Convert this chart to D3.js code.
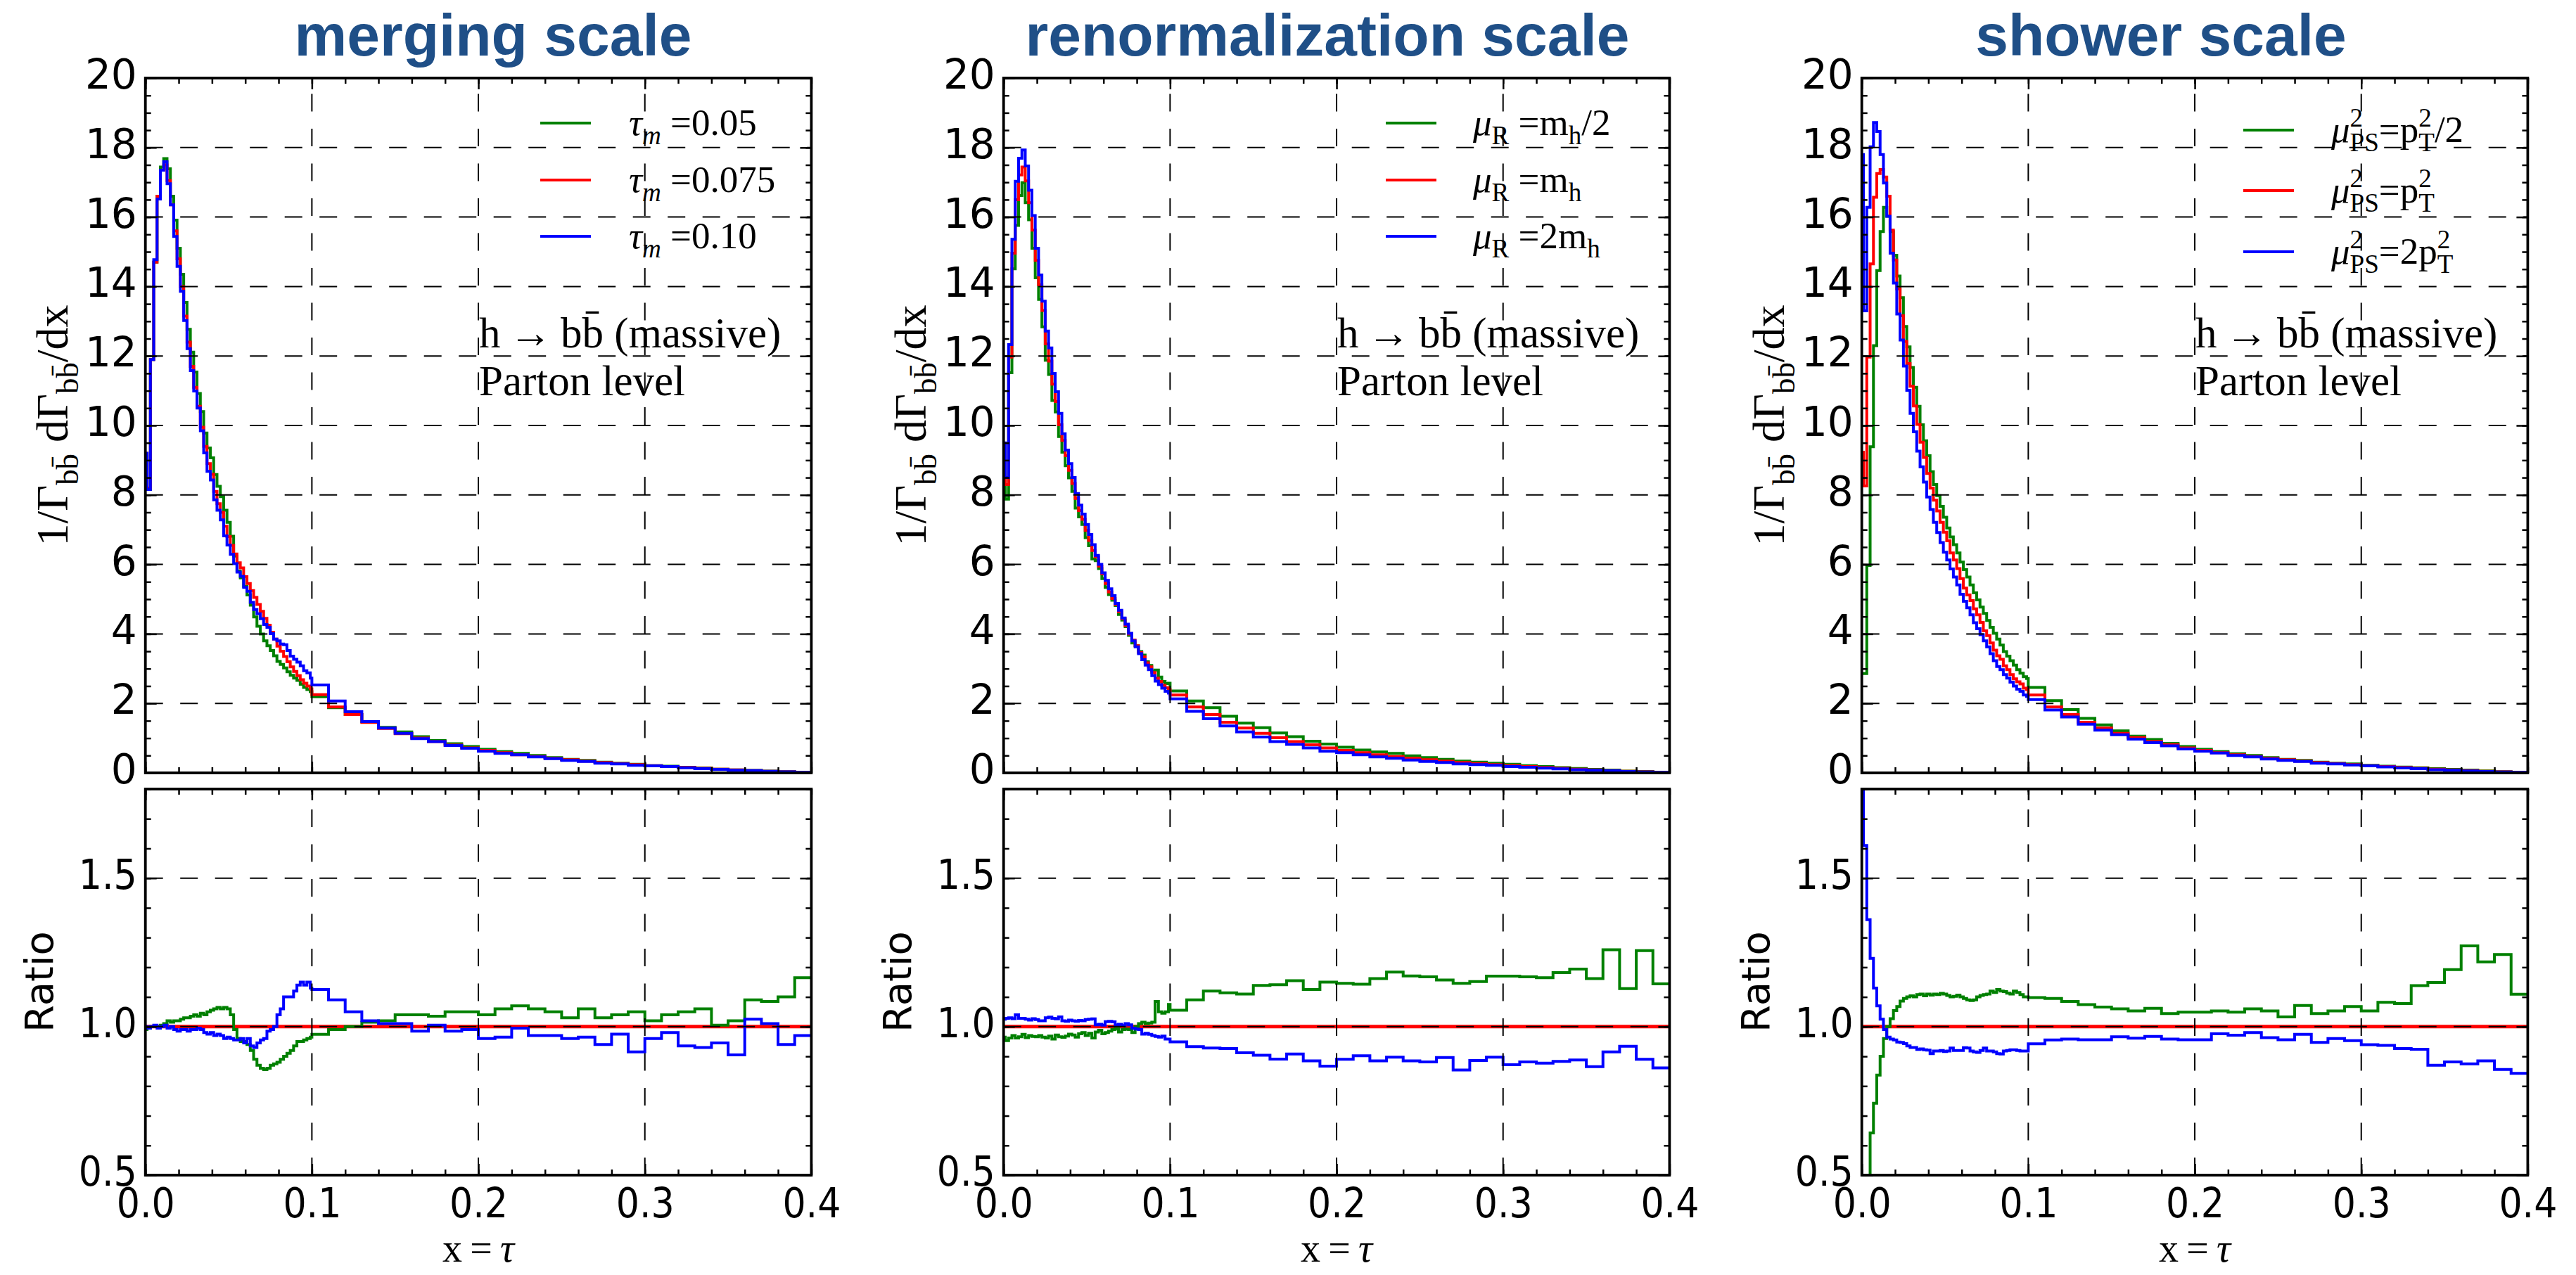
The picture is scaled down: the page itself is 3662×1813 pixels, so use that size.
<!DOCTYPE html>
<html>
<head>
<meta charset="utf-8">
<script src="https://cdnjs.cloudflare.com/ajax/libs/d3/7.8.5/d3.min.js"></script>
<style>
  body { margin: 0; background: #fff; }
</style>
</head>
<body>
<svg id="chart"></svg>
<script>
'use strict'

// bin edges: fine bins of 0.002 (offset by 0.001) below 0.1, then 0.01
var binEdges = [0, 0.001, 0.003, 0.005, 0.007, 0.009, 0.011, 0.013, 0.015, 0.017, 0.019,
  0.021, 0.023, 0.025, 0.027, 0.029, 0.031, 0.033, 0.035, 0.037, 0.039,
  0.041, 0.043, 0.045, 0.047, 0.049, 0.051, 0.053, 0.055, 0.057, 0.059,
  0.061, 0.063, 0.065, 0.067, 0.069, 0.071, 0.073, 0.075, 0.077, 0.079,
  0.081, 0.083, 0.085, 0.087, 0.089, 0.091, 0.093, 0.095, 0.097, 0.099, 0.1,
  0.11, 0.12, 0.13, 0.14, 0.15, 0.16, 0.17, 0.18, 0.19, 0.2, 0.21, 0.22, 0.23, 0.24,
  0.25, 0.26, 0.27, 0.28, 0.29, 0.3, 0.31, 0.32, 0.33, 0.34, 0.35, 0.36, 0.37, 0.38, 0.39, 0.4];

// merging scale
var mergeRed = [9.2, 8.2, 11.9, 14.7, 16.6, 17.35, 17.5, 17.05, 16.35, 15.6, 14.8, 14.0, 13.15, 12.4, 11.7, 11.1, 10.55, 9.95, 9.4, 8.9, 8.6, 8.1, 7.75, 7.5, 7.1, 6.8, 6.55, 6.3, 6.05, 5.9, 5.65, 5.45, 5.25, 5.05, 4.85, 4.65, 4.45, 4.25, 4.05, 3.85, 3.65, 3.5, 3.35, 3.2, 3.05, 2.92, 2.8, 2.68, 2.58, 2.5, 2.42,
  2.25, 1.9, 1.68, 1.45, 1.28, 1.13, 1.0, 0.9, 0.8, 0.72, 0.65, 0.58, 0.52, 0.47, 0.42, 0.38, 0.34, 0.3, 0.27, 0.24, 0.21, 0.18, 0.155, 0.13, 0.105, 0.085, 0.065, 0.045, 0.03, 0.015];
var mergeGreen = [9.11, 8.16, 11.9, 14.7, 16.6, 17.44, 17.68, 17.39, 16.6, 15.91, 15.1, 14.35, 13.54, 12.77, 12.11, 11.54, 10.92, 10.4, 9.78, 9.35, 9.07, 8.59, 8.25, 7.95, 7.56, 7.21, 6.81, 6.24, 5.81, 5.61, 5.37, 5.12, 4.83, 4.49, 4.22, 4.0, 3.8, 3.66, 3.52, 3.37, 3.21, 3.12, 3.02, 2.91, 2.81, 2.73, 2.66, 2.55, 2.46, 2.4, 2.34,
  2.19, 1.88, 1.68, 1.47, 1.31, 1.18, 1.04, 0.93, 0.84, 0.76, 0.68, 0.61, 0.56, 0.5, 0.44, 0.39, 0.36, 0.31, 0.28, 0.25, 0.21, 0.19, 0.16, 0.14, 0.105, 0.087, 0.071, 0.049, 0.033, 0.017];
var mergeBlue = [9.2, 8.16, 11.9, 14.77, 16.52, 17.35, 17.59, 16.96, 16.35, 15.44, 14.58, 13.86, 13.02, 12.21, 11.58, 10.99, 10.5, 9.85, 9.21, 8.68, 8.43, 7.86, 7.56, 7.28, 6.82, 6.56, 6.29, 6.02, 5.78, 5.66, 5.34, 5.23, 4.91, 4.7, 4.58, 4.44, 4.27, 4.19, 4.01, 3.85, 3.8, 3.71, 3.69, 3.52, 3.36, 3.27, 3.19, 3.08, 2.94, 2.88, 2.73,
  2.53, 2.07, 1.76, 1.48, 1.29, 1.14, 0.985, 0.9, 0.79, 0.71, 0.62, 0.56, 0.52, 0.46, 0.41, 0.36, 0.33, 0.28, 0.26, 0.22, 0.2, 0.18, 0.145, 0.12, 0.1, 0.077, 0.067, 0.045, 0.028, 0.015];
var mergeRatioGreen = [0.99, 0.995, 1.0, 1.0, 1.0, 1.005, 1.01, 1.02, 1.015, 1.02, 1.02, 1.025, 1.03, 1.03, 1.035, 1.04, 1.035, 1.045, 1.04, 1.05, 1.055, 1.06, 1.065, 1.06, 1.065, 1.06, 1.04, 0.99, 0.96, 0.95, 0.95, 0.94, 0.92, 0.89, 0.87, 0.86, 0.855, 0.86, 0.87, 0.875, 0.88, 0.89, 0.9, 0.91, 0.92, 0.935, 0.95, 0.95, 0.955, 0.96, 0.965,
  0.974, 0.99, 1.0, 1.015, 1.02, 1.04, 1.04, 1.035, 1.05, 1.05, 1.04, 1.06, 1.07, 1.06, 1.05, 1.03, 1.06, 1.03, 1.04, 1.05, 1.02, 1.04, 1.05, 1.06, 1.005, 1.02, 1.09, 1.085, 1.1, 1.165];
var mergeRatioBlue = [1.0, 0.995, 1.0, 1.005, 0.995, 1.0, 1.005, 0.995, 1.0, 0.99, 0.985, 0.99, 0.99, 0.985, 0.99, 0.99, 0.995, 0.99, 0.98, 0.975, 0.98, 0.97, 0.975, 0.97, 0.96, 0.965, 0.96, 0.955, 0.955, 0.96, 0.945, 0.96, 0.935, 0.93, 0.945, 0.955, 0.96, 0.985, 0.99, 1.0, 1.04, 1.06, 1.1, 1.1, 1.1, 1.12, 1.14, 1.15, 1.14, 1.15, 1.13,
  1.125, 1.09, 1.05, 1.02, 1.01, 1.01, 0.985, 1.005, 0.985, 0.99, 0.96, 0.965, 0.995, 0.97, 0.97, 0.96, 0.965, 0.94, 0.975, 0.915, 0.96, 0.98, 0.935, 0.93, 0.945, 0.905, 1.025, 1.01, 0.94, 0.97];

// renormalization scale
var renormRed = [8.9, 8.3, 11.97, 14.96, 16.5, 17.21, 17.44, 17.04, 16.41, 15.62, 14.75, 14.05, 13.31, 12.35, 11.85, 11.19, 10.69, 10.02, 9.57, 9.13, 8.71, 8.33, 7.9, 7.55, 7.3, 6.98, 6.69, 6.4, 6.22, 5.95, 5.73, 5.45, 5.21, 5.02, 4.85, 4.64, 4.44, 4.24, 4.0, 3.82, 3.66, 3.46, 3.34, 3.17, 3.05, 2.89, 2.73, 2.63, 2.52, 2.45, 2.4,
  2.24, 1.9, 1.68, 1.46, 1.29, 1.14, 1.01, 0.9, 0.81, 0.72, 0.65, 0.58, 0.52, 0.47, 0.42, 0.38, 0.34, 0.3, 0.27, 0.24, 0.21, 0.18, 0.155, 0.13, 0.105, 0.085, 0.065, 0.045, 0.03, 0.015];
var renormGreen = [8.6, 7.88, 11.52, 14.51, 15.76, 16.62, 16.99, 16.41, 15.92, 15.1, 14.25, 13.63, 12.84, 11.88, 11.47, 10.72, 10.39, 9.68, 9.23, 8.84, 8.49, 8.1, 7.62, 7.37, 7.15, 6.77, 6.54, 6.16, 6.11, 5.88, 5.59, 5.34, 5.13, 4.97, 4.82, 4.56, 4.4, 4.21, 3.96, 3.74, 3.66, 3.49, 3.39, 3.2, 3.09, 2.93, 2.96, 2.76, 2.63, 2.57, 2.58,
  2.36, 2.07, 1.88, 1.63, 1.43, 1.3, 1.15, 1.04, 0.91, 0.83, 0.74, 0.66, 0.6, 0.56, 0.49, 0.44, 0.39, 0.34, 0.31, 0.28, 0.25, 0.21, 0.18, 0.15, 0.125, 0.099, 0.082, 0.051, 0.038, 0.017];
var renormBlue = [9.5, 8.5, 12.33, 15.36, 17.03, 17.69, 17.93, 17.47, 16.77, 16.04, 15.1, 14.33, 13.58, 12.72, 12.23, 11.5, 10.97, 10.35, 9.76, 9.29, 8.9, 8.5, 8.04, 7.71, 7.45, 7.15, 6.86, 6.57, 6.26, 6.0, 5.76, 5.54, 5.3, 5.1, 4.88, 4.68, 4.46, 4.28, 4.02, 3.8, 3.63, 3.43, 3.26, 3.1, 2.97, 2.8, 2.64, 2.54, 2.44, 2.35, 2.3,
  2.13, 1.77, 1.56, 1.35, 1.18, 1.03, 0.9, 0.82, 0.72, 0.62, 0.58, 0.52, 0.46, 0.42, 0.37, 0.33, 0.3, 0.26, 0.24, 0.22, 0.18, 0.16, 0.136, 0.115, 0.093, 0.074, 0.059, 0.042, 0.027, 0.013];
var renormRatioGreen = [0.965, 0.953, 0.962, 0.97, 0.962, 0.966, 0.974, 0.963, 0.97, 0.967, 0.966, 0.97, 0.965, 0.962, 0.968, 0.958, 0.972, 0.966, 0.964, 0.968, 0.975, 0.972, 0.965, 0.976, 0.98, 0.97, 0.978, 0.962, 0.982, 0.988, 0.976, 0.98, 0.985, 0.99, 0.993, 0.982, 0.99, 0.992, 0.99, 0.98, 1.0, 1.01, 1.015, 1.01, 1.012, 1.015, 1.085, 1.05, 1.045, 1.05, 1.075,
  1.055, 1.09, 1.12, 1.114, 1.11, 1.139, 1.141, 1.155, 1.125, 1.15, 1.146, 1.143, 1.162, 1.184, 1.171, 1.168, 1.157, 1.146, 1.152, 1.17, 1.17, 1.168, 1.165, 1.182, 1.194, 1.162, 1.259, 1.128, 1.256, 1.144];
var renormRatioBlue = [1.025, 1.028, 1.03, 1.027, 1.04, 1.028, 1.028, 1.025, 1.022, 1.027, 1.024, 1.02, 1.02, 1.03, 1.032, 1.028, 1.026, 1.033, 1.02, 1.018, 1.022, 1.02, 1.018, 1.021, 1.02, 1.024, 1.025, 1.026, 1.006, 1.008, 1.005, 1.017, 1.018, 1.016, 1.006, 1.008, 1.004, 1.01, 1.006, 0.995, 0.992, 0.99, 0.975, 0.978, 0.974, 0.97, 0.967, 0.965, 0.968, 0.958, 0.958,
  0.949, 0.933, 0.928, 0.926, 0.912, 0.904, 0.891, 0.908, 0.885, 0.867, 0.89, 0.902, 0.885, 0.897, 0.885, 0.881, 0.896, 0.854, 0.886, 0.897, 0.872, 0.881, 0.877, 0.883, 0.888, 0.865, 0.915, 0.934, 0.89, 0.861];

// shower scale
var showerRed = [9.23, 8.26, 11.97, 14.65, 16.57, 17.25, 17.37, 17.15, 16.6, 15.62, 14.76, 13.93, 13.16, 12.42, 11.78, 11.13, 10.56, 10.03, 9.52, 9.08, 8.62, 8.2, 7.85, 7.54, 7.21, 6.93, 6.68, 6.33, 6.13, 5.88, 5.59, 5.32, 5.12, 4.96, 4.72, 4.55, 4.33, 4.09, 3.95, 3.74, 3.53, 3.37, 3.27, 3.08, 2.97, 2.83, 2.71, 2.62, 2.56, 2.44, 2.4,
  2.24, 1.9, 1.68, 1.46, 1.29, 1.14, 1.01, 0.9, 0.81, 0.72, 0.65, 0.58, 0.52, 0.47, 0.42, 0.38, 0.34, 0.3, 0.27, 0.24, 0.21, 0.18, 0.155, 0.13, 0.105, 0.085, 0.065, 0.045, 0.03, 0.015];
var showerGreen = [2.86, 2.86, 5.97, 9.39, 12.3, 14.46, 15.58, 16.28, 16.02, 15.58, 14.9, 14.3, 13.68, 12.85, 12.26, 11.67, 11.1, 10.55, 10.02, 9.56, 9.13, 8.67, 8.3, 7.98, 7.67, 7.36, 7.05, 6.79, 6.57, 6.33, 6.07, 5.85, 5.64, 5.41, 5.18, 4.98, 4.77, 4.59, 4.39, 4.19, 4.02, 3.85, 3.68, 3.49, 3.36, 3.23, 3.1, 2.97, 2.87, 2.77, 2.72,
  2.46, 2.08, 1.82, 1.57, 1.38, 1.21, 1.06, 0.96, 0.85, 0.76, 0.68, 0.61, 0.55, 0.5, 0.44, 0.39, 0.36, 0.31, 0.28, 0.26, 0.22, 0.19, 0.167, 0.148, 0.121, 0.101, 0.083, 0.055, 0.037, 0.017];
var showerBlue = [17.8, 13.3, 16.28, 18.02, 18.72, 18.46, 17.8, 16.98, 16.02, 14.96, 14.1, 13.21, 12.46, 11.71, 11.01, 10.35, 9.82, 9.26, 8.81, 8.37, 7.94, 7.58, 7.21, 6.92, 6.63, 6.35, 6.13, 5.87, 5.64, 5.41, 5.14, 4.94, 4.75, 4.55, 4.32, 4.15, 3.98, 3.8, 3.63, 3.43, 3.23, 3.06, 2.97, 2.83, 2.73, 2.61, 2.5, 2.41, 2.35, 2.24, 2.2,
  2.11, 1.81, 1.61, 1.4, 1.23, 1.1, 0.97, 0.87, 0.78, 0.69, 0.62, 0.57, 0.5, 0.46, 0.4, 0.36, 0.33, 0.28, 0.26, 0.23, 0.2, 0.17, 0.144, 0.12, 0.091, 0.075, 0.057, 0.04, 0.026, 0.013];
var showerRatioGreen = [0.31, 0.35, 0.49, 0.642, 0.742, 0.837, 0.9, 0.96, 1.0, 1.027, 1.054, 1.068, 1.086, 1.095, 1.1, 1.104, 1.1, 1.108, 1.11, 1.104, 1.11, 1.106, 1.11, 1.108, 1.112, 1.11, 1.105, 1.1, 1.102, 1.106, 1.1, 1.095, 1.09, 1.088, 1.09, 1.1, 1.105, 1.108, 1.11, 1.12, 1.115, 1.125, 1.12, 1.118, 1.113, 1.11, 1.12, 1.115, 1.108, 1.1, 1.1,
  1.098, 1.095, 1.085, 1.074, 1.066, 1.06, 1.053, 1.062, 1.044, 1.049, 1.049, 1.053, 1.049, 1.06, 1.053, 1.033, 1.071, 1.044, 1.053, 1.068, 1.053, 1.082, 1.078, 1.138, 1.149, 1.192, 1.272, 1.218, 1.243, 1.109];
var showerRatioBlue = [1.93, 1.61, 1.36, 1.23, 1.13, 1.07, 1.025, 0.99, 0.965, 0.958, 0.955, 0.948, 0.947, 0.943, 0.935, 0.93, 0.93, 0.923, 0.925, 0.922, 0.921, 0.909, 0.918, 0.918, 0.92, 0.916, 0.918, 0.928, 0.92, 0.92, 0.92, 0.929, 0.928, 0.918, 0.915, 0.913, 0.92, 0.928, 0.918, 0.918, 0.915, 0.909, 0.908, 0.918, 0.92, 0.922, 0.922, 0.92, 0.918, 0.918, 0.918,
  0.942, 0.955, 0.958, 0.956, 0.956, 0.966, 0.961, 0.967, 0.958, 0.956, 0.956, 0.976, 0.971, 0.98, 0.963, 0.956, 0.974, 0.947, 0.96, 0.953, 0.939, 0.937, 0.926, 0.924, 0.87, 0.881, 0.875, 0.885, 0.856, 0.843];

// tick labels
var topTickValues = [0, 2, 4, 6, 8, 10, 12, 14, 16, 18, 20];
var ratioTickValues = [0.5, 1.0, 1.5];
var xTickValues = [0, 0.1, 0.2, 0.3, 0.4];
var xTickLabels = ["0.0", "0.1", "0.2", "0.3", "0.4"];

var titles = ["merging scale", "renormalization scale", "shower scale"];
var legendLabels = [
  [ [{t: "τ", i: 1}, {t: "m", i: 1, sub: 1}, {t: " =0.05"}],
    [{t: "τ", i: 1}, {t: "m", i: 1, sub: 1}, {t: " =0.075"}],
    [{t: "τ", i: 1}, {t: "m", i: 1, sub: 1}, {t: " =0.10"}] ],
  [ [{t: "μ", i: 1}, {t: "R", sub: 1}, {t: "  =m"}, {t: "h", sub: 1}, {t: "/2"}],
    [{t: "μ", i: 1}, {t: "R", sub: 1}, {t: "  =m"}, {t: "h", sub: 1}],
    [{t: "μ", i: 1}, {t: "R", sub: 1}, {t: "  =2m"}, {t: "h", sub: 1}] ],
  [ [{t: "μ", i: 1}, {t: "2", sup: 1}, {t: "PS", sub: 1, back: 0.35}, {t: "=p"}, {t: "2", sup: 1}, {t: "T", sub: 1, back: 0.35}, {t: "/2"}],
    [{t: "μ", i: 1}, {t: "2", sup: 1}, {t: "PS", sub: 1, back: 0.35}, {t: "=p"}, {t: "2", sup: 1}, {t: "T", sub: 1, back: 0.35}],
    [{t: "μ", i: 1}, {t: "2", sup: 1}, {t: "PS", sub: 1, back: 0.35}, {t: "=2p"}, {t: "2", sup: 1}, {t: "T", sub: 1, back: 0.35}] ]
];

var panels = [
  {red: mergeRed, green: mergeGreen, blue: mergeBlue, rg: mergeRatioGreen, rb: mergeRatioBlue},
  {red: renormRed, green: renormGreen, blue: renormBlue, rg: renormRatioGreen, rb: renormRatioBlue},
  {red: showerRed, green: showerGreen, blue: showerBlue, rg: showerRatioGreen, rb: showerRatioBlue}
];
var titleX = [701, 667, 632];
var legendLineX = [[768, 840], [750, 822], [749, 821]];
var legendTextX = [894, 874, 874];
var legendRowY = [[175, 256, 336], [175, 256, 336], [185, 271, 358]];

var W = 3662, H = 1813, PANEL_DX = 1220;
var GREEN = "#008000", RED = "#ff0000", BLUE = "#0000ff";
var SERIF = "'Liberation Serif', 'DejaVu Serif', serif";
var LW = 4;

var svg = d3.select("#chart").attr("width", W).attr("height", H)
  .style("font-family", "'DejaVu Sans', sans-serif");
svg.append("rect").attr("width", W).attr("height", H).attr("fill", "#fff");

var x = d3.scaleLinear().domain([0, 0.4]).range([206.7, 1153.4]);
var yTop = d3.scaleLinear().domain([0, 20]).range([1099, 111]);
var yRat = d3.scaleLinear().domain([0.5, 1.8]).range([1671, 1122]);

function stepPoints(vals) {
  var pts = vals.map(function (v, i) { return [binEdges[i], v]; });
  pts.push([binEdges[vals.length], vals[vals.length - 1]]);
  return pts;
}

function richText(sel, parts, size) {
  var cur = 0;
  parts.forEach(function (p) {
    var small = p.sub || p.sup;
    var shift = p.sub ? 0.24 * size : (p.sup ? -0.42 * size : 0);
    var ts = sel.append("tspan").text(p.t)
      .attr("dy", shift - cur)
      .style("font-size", (small ? size * 0.7 : size) + "px")
      .style("font-style", p.i ? "italic" : "normal");
    if (p.back) ts.attr("dx", -p.back * size);
    cur = shift;
  });
}

function drawAxes(g, y, majorY, minorY, labelY, labelFont, xLabels) {
  var xMinor = d3.range(0, 0.4001, 0.02);
  var yr = y.range();
  var axes = [
    d3.axisLeft(y).tickValues(majorY).tickSize(-16),
    d3.axisLeft(y).tickValues(minorY).tickSize(-8),
    d3.axisRight(y).tickValues(majorY).tickSize(-16),
    d3.axisRight(y).tickValues(minorY).tickSize(-8),
    d3.axisBottom(x).tickValues(xTickValues).tickSize(-16),
    d3.axisBottom(x).tickValues(xMinor).tickSize(-8),
    d3.axisTop(x).tickValues(xTickValues).tickSize(-16),
    d3.axisTop(x).tickValues(xMinor).tickSize(-8)
  ];
  var pos = [
    [x.range()[0], 0], [x.range()[0], 0], [x.range()[1], 0], [x.range()[1], 0],
    [0, yr[0]], [0, yr[0]], [0, yr[1]], [0, yr[1]]
  ];
  axes.forEach(function (ax, i) {
    var a = g.append("g").attr("transform", "translate(" + pos[i][0] + "," + pos[i][1] + ")")
      .call(ax.tickFormat(""));
    a.select(".domain").remove();
    a.selectAll("line").attr("stroke", "#000").attr("stroke-width", 2.5);
    a.selectAll("text").remove();
  });
  // y labels
  var yl = g.append("g").attr("transform", "translate(" + x.range()[0] + ",0)")
    .call(d3.axisLeft(y).tickValues(labelY).tickSize(0).tickPadding(12)
      .tickFormat(function (d) { return labelFont.fmt(d); }));
  yl.select(".domain").remove();
  yl.selectAll("text").attr("dy", "0.25em")
    .style("font-family", labelFont.family).style("font-size", "58px").attr("fill", "#000");
  if (xLabels) {
    var xl = g.append("g").attr("transform", "translate(0," + yr[0] + ")")
      .call(d3.axisBottom(x).tickValues(xTickValues).tickSize(0).tickPadding(19)
        .tickFormat(function (d, i) { return xTickLabels[i]; }));
    xl.select(".domain").remove();
    xl.selectAll("text").style("font-family", "'DejaVu Sans Condensed', 'DejaVu Sans', sans-serif")
      .style("font-stretch", "condensed").style("font-size", "58px").attr("fill", "#000");
  }
}

function drawGrid(g, y, gridY) {
  var yr = y.range();
  g.append("g").selectAll("line").data(gridY).join("line")
    .attr("x1", x.range()[0]).attr("x2", x.range()[1])
    .attr("y1", function (d) { return y(d); }).attr("y2", function (d) { return y(d); })
    .attr("stroke", "#000").attr("stroke-width", 2).attr("stroke-dasharray", "25,24.5");
  g.append("g").selectAll("line").data([0.1, 0.2, 0.3]).join("line")
    .attr("x1", function (d) { return x(d); }).attr("x2", function (d) { return x(d); })
    .attr("y1", yr[0]).attr("y2", yr[1])
    .attr("stroke", "#000").attr("stroke-width", 2).attr("stroke-dasharray", "25,24.5");
}

panels.forEach(function (p, k) {
  var g = svg.append("g").attr("transform", "translate(" + (k * PANEL_DX) + ",0)");

  // title
  g.append("text").attr("x", titleX[k]).attr("y", 79).attr("text-anchor", "middle")
    .style("font-family", "'Liberation Sans', Arial, sans-serif").style("font-weight", "bold")
    .style("font-size", "84px").attr("fill", "#1f4f87").text(titles[k]);

  // clip paths
  g.append("clipPath").attr("id", "clipTop" + k).append("rect")
    .attr("x", x.range()[0]).attr("y", yTop.range()[1])
    .attr("width", x.range()[1] - x.range()[0]).attr("height", yTop.range()[0] - yTop.range()[1]);
  g.append("clipPath").attr("id", "clipRat" + k).append("rect")
    .attr("x", x.range()[0]).attr("y", yRat.range()[1])
    .attr("width", x.range()[1] - x.range()[0]).attr("height", yRat.range()[0] - yRat.range()[1]);

  // ---- top panel ----
  var lineTop = d3.line().x(function (d) { return x(d[0]); }).y(function (d) { return yTop(d[1]); })
    .curve(d3.curveStepAfter);
  var dataTop = g.append("g").attr("clip-path", "url(#clipTop" + k + ")");
  [[p.green, GREEN], [p.red, RED], [p.blue, BLUE]].forEach(function (s) {
    dataTop.append("path").attr("d", lineTop(stepPoints(s[0])))
      .attr("fill", "none").attr("stroke", s[1]).attr("stroke-width", LW);
  });
  drawGrid(g, yTop, [2, 4, 6, 8, 10, 12, 14, 16, 18]);

  // ---- ratio panel ----
  var lineRat = d3.line().x(function (d) { return x(d[0]); }).y(function (d) { return yRat(d[1]); })
    .curve(d3.curveStepAfter);
  var dataRat = g.append("g").attr("clip-path", "url(#clipRat" + k + ")");
  dataRat.append("line").attr("x1", x(0)).attr("x2", x(0.4)).attr("y1", yRat(1)).attr("y2", yRat(1))
    .attr("stroke", RED).attr("stroke-width", 5);
  [[p.rg, GREEN], [p.rb, BLUE]].forEach(function (s) {
    dataRat.append("path").attr("d", lineRat(stepPoints(s[0])))
      .attr("fill", "none").attr("stroke", s[1]).attr("stroke-width", LW);
  });
  drawGrid(g, yRat, [1.0, 1.5]);

  // axes and frames
  drawAxes(g, yTop, topTickValues, d3.range(0, 20.01, 0.5), topTickValues,
    {family: "'DejaVu Sans', sans-serif", fmt: function (d) { return String(d); }}, false);
  drawAxes(g, yRat, ratioTickValues, d3.range(0.5, 1.801, 0.1), ratioTickValues,
    {family: "'DejaVu Sans Condensed', 'DejaVu Sans', sans-serif", fmt: function (d) { return d.toFixed(1); }}, true);
  [yTop, yRat].forEach(function (y) {
    g.append("rect").attr("x", x.range()[0]).attr("y", y.range()[1])
      .attr("width", x.range()[1] - x.range()[0]).attr("height", y.range()[0] - y.range()[1])
      .attr("fill", "none").attr("stroke", "#000").attr("stroke-width", 3.8);
  });

  // legend
  var colors = [GREEN, RED, BLUE];
  legendLabels[k].forEach(function (lab, j) {
    var yy = legendRowY[k][j];
    g.append("line").attr("x1", legendLineX[k][0]).attr("x2", legendLineX[k][1])
      .attr("y1", yy).attr("y2", yy).attr("stroke", colors[j]).attr("stroke-width", LW);
    var t = g.append("text").attr("x", legendTextX[k]).attr("y", yy + 17)
      .style("font-family", SERIF).attr("fill", "#000");
    richText(t, lab, 53);
  });

  // annotation
  g.append("text").attr("x", 681).attr("y", 494).style("font-family", SERIF)
    .style("font-size", "61px").attr("fill", "#000").text("h\u2009→\u2009bb\u0304 (massive)");
  g.append("text").attr("x", 681).attr("y", 562).style("font-family", SERIF)
    .style("font-size", "61px").attr("fill", "#000").text("Parton level");

  // axis labels
  var yl = g.append("text").attr("transform", "translate(96,605) rotate(-90)")
    .attr("text-anchor", "middle").style("font-family", SERIF).attr("fill", "#000");
  richText(yl, [{t: "1/Γ"}, {t: "bb\u0304", sub: 1}, {t: " dΓ"}, {t: "bb\u0304", sub: 1}, {t: "/dx"}], 64);
  g.append("text").attr("transform", "translate(75,1396) rotate(-90)").attr("text-anchor", "middle")
    .style("font-family", "'DejaVu Sans', sans-serif").style("font-size", "56px").attr("fill", "#000")
    .text("Ratio");
  var xl = g.append("text").attr("x", 680).attr("y", 1794).attr("text-anchor", "middle")
    .style("font-family", SERIF).attr("fill", "#000");
  richText(xl, [{t: "x\u2009=\u2009"}, {t: "τ", i: 1}], 56);
});
</script>
</body>
</html>
